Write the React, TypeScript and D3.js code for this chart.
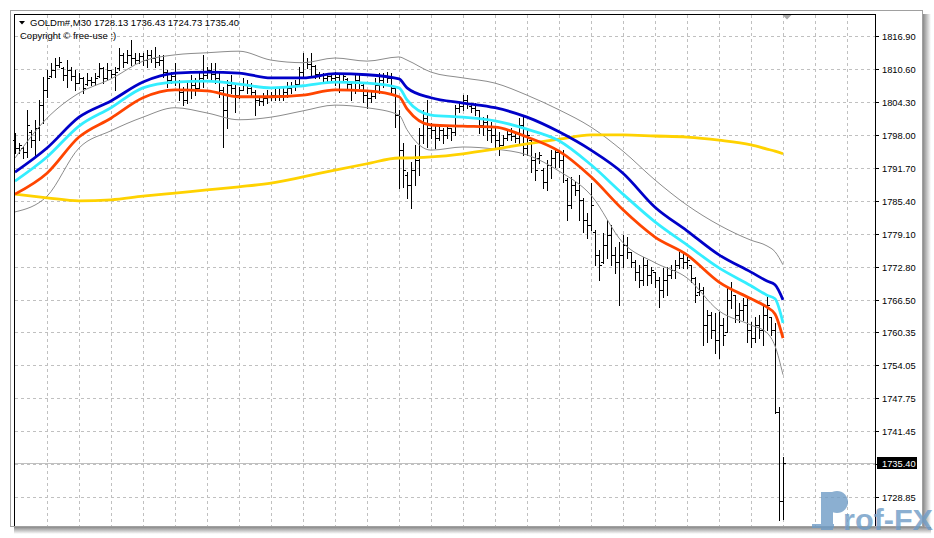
import * as d3 from 'd3'

const symbol = 'GOLDm#,M30'
const lastQuote = [1728.13, 1736.43, 1724.73, 1735.4]
const copyright = 'Copyright © free-use :)'
const bidPrice = 1735.4
const priceTicks = [
  1816.9, 1810.6, 1804.3, 1798.0, 1791.7, 1785.4, 1779.1, 1772.8, 1766.5,
  1760.35, 1754.05, 1747.75, 1741.45, 1735.15, 1728.85,
]

// M30 bars, oldest first
const open = [
  1797.0, 1795.5, 1795.5, 1794.7, 1798.6, 1797.0, 1799.3, 1803.7, 1806.6, 1809.3,
  1810.4, 1811.4, 1810.8, 1809.5, 1810.4, 1809.3, 1807.9, 1808.9, 1807.7, 1808.5,
  1808.1, 1809.3, 1810.8, 1808.9, 1810.4, 1809.6, 1810.8, 1813.3, 1811.9, 1813.3,
  1812.7, 1812.3, 1813.1, 1812.3, 1813.3, 1812.7, 1811.9, 1812.3, 1810.0, 1808.5,
  1809.3, 1808.1, 1806.2, 1804.7, 1806.6, 1807.5, 1807.0, 1808.9, 1809.5, 1810.4,
  1809.6, 1808.9, 1806.6, 1802.8, 1807.5, 1807.0, 1805.6, 1806.6, 1807.7, 1807.0,
  1806.2, 1804.7, 1804.5, 1805.1, 1805.4, 1805.6, 1805.3, 1805.6, 1806.2, 1807.0,
  1807.4, 1807.7, 1810.0, 1811.9, 1811.6, 1811.2, 1809.6, 1809.5, 1808.9, 1809.3,
  1808.9, 1809.1, 1808.1, 1808.7, 1807.7, 1806.6, 1808.5, 1807.5, 1805.6, 1805.1,
  1805.4, 1807.5, 1808.5, 1809.3, 1808.9, 1807.0, 1801.8, 1795.1, 1790.4, 1788.4,
  1791.3, 1793.2, 1798.0, 1801.2, 1799.3, 1798.9, 1797.4, 1798.9, 1798.0, 1799.3,
  1798.6, 1803.1, 1803.5, 1804.7, 1803.5, 1803.1, 1802.8, 1799.9, 1800.5, 1798.9,
  1798.0, 1797.0, 1796.1, 1797.4, 1798.2, 1797.8, 1797.4, 1799.9, 1795.5, 1797.0,
  1793.2, 1793.6, 1791.3, 1789.0, 1792.3, 1793.6, 1794.7, 1793.2, 1789.4, 1784.6,
  1788.4, 1787.5, 1785.6, 1781.8, 1780.8, 1779.5, 1775.1, 1773.7, 1777.0, 1778.9,
  1775.1, 1773.7, 1775.1, 1777.0, 1775.6, 1773.7, 1771.8, 1770.3, 1773.2, 1771.3,
  1771.8, 1770.3, 1768.4, 1770.3, 1771.3, 1772.2, 1773.2, 1774.5, 1773.7, 1773.2,
  1770.7, 1768.0, 1768.4, 1761.7, 1763.6, 1760.8, 1758.8, 1761.7, 1760.4, 1766.5,
  1767.4, 1763.6, 1764.6, 1765.5, 1760.8, 1759.2, 1761.7, 1760.8, 1763.6, 1763.2,
  1760.8, 1745.1, 1728.13,
]
const high = [
  1798.4, 1796.5, 1795.7, 1802.8, 1798.9, 1800.9, 1804.7, 1809.1, 1810.4, 1811.7,
  1812.7, 1812.9, 1811.0, 1812.3, 1811.0, 1810.4, 1809.8, 1809.1, 1809.8, 1809.1,
  1809.8, 1811.7, 1811.0, 1811.7, 1810.4, 1811.0, 1814.6, 1813.7, 1814.2, 1816.1,
  1813.7, 1813.7, 1813.7, 1814.2, 1814.2, 1814.8, 1813.3, 1813.3, 1810.4, 1810.0,
  1811.7, 1808.5, 1807.2, 1808.1, 1809.5, 1808.9, 1809.8, 1813.3, 1811.0, 1811.7,
  1811.7, 1810.0, 1807.2, 1808.5, 1809.5, 1807.9, 1807.2, 1808.9, 1808.5, 1807.9,
  1806.6, 1805.3, 1806.0, 1806.6, 1806.2, 1807.0, 1807.0, 1807.0, 1808.1, 1808.1,
  1808.5, 1811.0, 1813.7, 1812.7, 1813.7, 1811.4, 1810.0, 1809.8, 1809.8, 1809.8,
  1810.0, 1809.8, 1809.8, 1808.9, 1807.9, 1809.8, 1809.8, 1807.9, 1806.6, 1806.2,
  1808.9, 1809.8, 1809.8, 1810.0, 1809.8, 1807.2, 1802.8, 1796.5, 1790.9, 1792.8,
  1796.1, 1799.3, 1802.8, 1804.7, 1800.3, 1799.9, 1799.9, 1799.3, 1799.9, 1799.3,
  1803.7, 1804.1, 1805.6, 1805.6, 1803.7, 1804.1, 1802.8, 1801.4, 1801.8, 1800.5,
  1799.3, 1798.6, 1798.0, 1798.9, 1799.3, 1798.6, 1801.2, 1801.4, 1799.3, 1797.0,
  1794.6, 1794.7, 1791.7, 1793.2, 1795.1, 1795.5, 1795.1, 1795.1, 1789.8, 1789.9,
  1789.0, 1790.4, 1786.0, 1783.1, 1788.8, 1779.9, 1776.0, 1779.3, 1781.8, 1780.8,
  1776.6, 1777.5, 1778.9, 1778.5, 1775.6, 1774.1, 1773.2, 1774.7, 1774.1, 1772.8,
  1771.8, 1770.9, 1772.6, 1772.8, 1773.2, 1774.1, 1775.6, 1775.4, 1774.7, 1773.2,
  1770.9, 1769.7, 1769.0, 1764.6, 1764.2, 1764.0, 1764.2, 1763.0, 1768.8, 1769.9,
  1767.4, 1765.9, 1766.9, 1766.9, 1762.3, 1763.2, 1763.6, 1765.5, 1767.1, 1763.2,
  1762.1, 1746.0, 1736.43,
]
const low = [
  1794.6, 1794.6, 1793.6, 1793.8, 1795.7, 1793.8, 1797.0, 1800.3, 1805.3, 1809.1,
  1809.1, 1811.0, 1808.5, 1807.2, 1808.5, 1806.6, 1807.9, 1806.0, 1807.5, 1807.5,
  1807.5, 1809.1, 1807.9, 1808.5, 1809.1, 1806.6, 1810.4, 1811.0, 1811.7, 1811.4,
  1811.7, 1811.7, 1811.4, 1811.0, 1811.9, 1811.0, 1811.4, 1809.1, 1807.2, 1807.9,
  1807.5, 1804.7, 1803.7, 1804.1, 1805.1, 1805.6, 1807.0, 1807.2, 1808.9, 1808.5,
  1807.9, 1805.3, 1795.7, 1799.3, 1806.0, 1802.4, 1805.1, 1806.6, 1806.0, 1805.6,
  1801.8, 1803.7, 1803.7, 1804.1, 1804.7, 1804.7, 1804.7, 1804.7, 1805.3, 1806.0,
  1806.6, 1807.5, 1809.1, 1810.8, 1809.5, 1808.9, 1808.9, 1808.1, 1807.9, 1808.1,
  1807.5, 1806.2, 1808.1, 1807.0, 1804.7, 1806.0, 1807.0, 1804.3, 1803.1, 1804.3,
  1805.1, 1806.0, 1807.2, 1808.1, 1806.2, 1799.5, 1787.9, 1788.1, 1786.0, 1784.0,
  1788.4, 1790.4, 1796.5, 1795.7, 1797.4, 1795.5, 1797.0, 1796.5, 1797.4, 1797.0,
  1798.0, 1802.4, 1802.8, 1803.1, 1802.4, 1801.8, 1798.4, 1798.0, 1797.0, 1796.7,
  1795.7, 1794.2, 1796.1, 1797.0, 1797.0, 1796.7, 1796.5, 1794.2, 1794.2, 1790.9,
  1789.4, 1792.6, 1787.9, 1787.5, 1789.8, 1791.9, 1791.9, 1789.0, 1781.8, 1784.0,
  1786.5, 1781.8, 1779.5, 1778.3, 1779.9, 1773.2, 1770.3, 1773.5, 1774.5, 1773.2,
  1771.6, 1765.5, 1772.8, 1774.5, 1772.8, 1770.3, 1768.9, 1769.3, 1769.3, 1769.7,
  1769.0, 1765.1, 1767.0, 1767.4, 1770.7, 1770.7, 1772.6, 1772.6, 1772.6, 1769.9,
  1766.1, 1767.4, 1757.9, 1758.4, 1759.2, 1756.4, 1755.4, 1757.9, 1760.4, 1764.9,
  1762.3, 1762.3, 1762.7, 1758.5, 1757.5, 1758.5, 1759.2, 1757.9, 1760.8, 1759.8,
  1744.9, 1724.5, 1724.73,
]
const close = [
  1795.5, 1796.1, 1794.7, 1799.9, 1797.0, 1799.3, 1803.7, 1806.6, 1808.9, 1810.4,
  1811.4, 1812.0, 1809.5, 1810.4, 1809.3, 1807.9, 1808.9, 1807.0, 1808.5, 1808.1,
  1808.9, 1810.8, 1808.9, 1810.4, 1809.6, 1810.0, 1813.3, 1811.9, 1813.3, 1812.7,
  1812.3, 1813.1, 1812.3, 1813.3, 1812.7, 1811.9, 1812.3, 1810.0, 1808.5, 1809.3,
  1808.1, 1806.2, 1804.7, 1806.6, 1807.5, 1807.0, 1808.9, 1809.5, 1810.4, 1809.6,
  1808.9, 1806.6, 1802.8, 1807.5, 1807.0, 1805.6, 1806.6, 1807.7, 1807.0, 1806.2,
  1804.7, 1804.5, 1805.1, 1805.4, 1805.6, 1805.3, 1805.6, 1806.2, 1807.0, 1807.4,
  1807.7, 1810.0, 1811.9, 1811.6, 1811.2, 1809.6, 1809.5, 1808.9, 1809.3, 1808.9,
  1809.1, 1808.1, 1809.3, 1807.7, 1806.6, 1808.5, 1808.1, 1805.6, 1805.1, 1805.4,
  1807.5, 1808.5, 1809.3, 1808.9, 1807.0, 1801.8, 1795.1, 1791.3, 1788.4, 1791.3,
  1793.2, 1798.0, 1801.2, 1799.3, 1798.9, 1797.4, 1798.9, 1798.0, 1799.3, 1798.6,
  1803.1, 1803.5, 1804.7, 1803.9, 1803.1, 1802.8, 1799.9, 1800.5, 1798.9, 1798.0,
  1797.0, 1796.1, 1797.4, 1798.2, 1797.8, 1797.4, 1799.9, 1795.5, 1798.0, 1793.2,
  1791.3, 1794.2, 1789.0, 1792.3, 1793.6, 1794.7, 1793.2, 1794.2, 1784.6, 1788.4,
  1787.5, 1785.6, 1781.8, 1780.8, 1784.6, 1775.1, 1773.2, 1777.0, 1778.9, 1775.1,
  1773.7, 1775.1, 1777.0, 1775.6, 1773.7, 1771.8, 1770.3, 1773.2, 1771.3, 1772.2,
  1770.3, 1768.4, 1770.3, 1771.3, 1772.2, 1773.2, 1774.5, 1773.7, 1774.1, 1770.7,
  1767.4, 1768.4, 1761.7, 1763.6, 1760.8, 1758.8, 1761.7, 1759.8, 1766.5, 1768.4,
  1763.6, 1764.6, 1765.5, 1760.8, 1759.2, 1761.7, 1760.8, 1763.6, 1765.5, 1760.8,
  1745.1, 1728.1, 1735.4,
]

const lineIdx = [
  0, 8, 16, 24, 32, 40, 48, 56, 64, 72, 80, 88, 96, 98, 104, 112, 120, 128, 136,
  144, 152, 160, 168, 176, 184, 188, 190, 192,
]
const maBlue = [
  1790.9, 1795.5, 1801.4, 1804.5, 1808.1, 1809.8, 1810.0, 1809.8, 1808.9, 1808.9,
  1809.7, 1809.5, 1808.7, 1807.0, 1805.1, 1804.1, 1803.2, 1801.4, 1798.6, 1795.1,
  1790.7, 1784.2, 1779.7, 1775.1, 1771.8, 1770.1, 1769.4, 1766.5,
]
const maCyan = [
  1789.2, 1793.8, 1799.7, 1803.2, 1807.0, 1808.1, 1808.3, 1807.7, 1807.0, 1807.4,
  1808.1, 1807.9, 1807.0, 1804.7, 1801.8, 1801.4, 1800.7, 1799.1, 1796.9, 1792.3,
  1786.7, 1781.4, 1777.0, 1772.6, 1769.2, 1767.4, 1766.7, 1762.1,
]
const maOrange = [
  1786.7, 1790.7, 1797.6, 1801.2, 1805.1, 1806.6, 1806.4, 1805.3, 1805.3, 1805.6,
  1806.6, 1806.4, 1805.3, 1803.0, 1799.9, 1799.7, 1799.5, 1797.6, 1794.9, 1790.0,
  1783.7, 1778.5, 1775.1, 1769.9, 1766.7, 1765.1, 1763.8, 1759.2,
]
const bandUpper = [
  1793.6, 1801.2, 1806.0, 1808.7, 1812.1, 1813.3, 1813.7, 1814.0, 1812.3, 1811.8,
  1812.7, 1812.1, 1812.9, 1812.3, 1810.0, 1808.9, 1807.9, 1805.6, 1802.8, 1799.5,
  1794.9, 1789.4, 1784.6, 1780.8, 1777.9, 1776.8, 1775.7, 1773.2,
]
const bandLower = [
  1783.3, 1786.3, 1795.5, 1798.8, 1801.4, 1803.2, 1802.2, 1800.9, 1801.4, 1802.6,
  1803.7, 1803.2, 1801.8, 1799.0, 1795.1, 1795.7, 1795.3, 1794.2, 1791.1, 1786.5,
  1777.4, 1773.6, 1770.7, 1764.4, 1761.7, 1760.2, 1757.7, 1752.2,
]
const maSlow = [
  1786.7, 1786.0, 1785.4, 1785.6, 1786.3, 1786.9, 1787.5, 1788.1, 1788.8, 1790.0,
  1791.3, 1792.5, 1793.6, 1793.6, 1793.8, 1794.4, 1795.3, 1796.3, 1797.2, 1798.0,
  1798.0, 1797.8, 1797.6, 1797.0, 1796.1, 1795.3, 1794.9, 1794.4,
]

const font = "'Liberation Sans', Arial, sans-serif"

export default function App() {
  const left = 14
  const top = 14
  const right = 875
  const bottom = 526

  const x = d3.scaleLinear().domain([0, 192]).range([15, 783])
  const y = d3.scaleLinear().domain([1728.85, 1816.9]).range([497, 36])

  const line = d3
    .line<number>()
    .x((_, k) => x(lineIdx[k]))
    .y((v) => y(v))
    .curve(d3.curveMonotoneX)

  const bars = open
    .map((o, i) => {
      const xi = Math.round(x(i))
      const yh = Math.round(y(high[i]))
      const yl = Math.round(y(low[i]))
      const yo = Math.round(y(o)) + 0.5
      const yc = Math.round(y(close[i])) + 0.5
      return `M${xi + 0.5},${yh}V${yl + 1}M${xi - 2},${yo}H${xi}M${xi + 1},${yc}H${xi + 3}`
    })
    .join('')

  const gridBars = d3.range(8, 209, 8)
  const yBid = Math.round(y(bidPrice)) + 0.5
  const shiftX = x(193)

  return (
    <svg
      width={934}
      height={538}
      style={{ position: 'fixed', left: 0, top: 0, background: '#fff' }}
      fontFamily={font}
    >
      <defs>
        <linearGradient id="shR" x1="0" x2="1" y1="0" y2="0">
          <stop offset="0" stopColor="#8a8a8a" />
          <stop offset="1" stopColor="#ffffff" />
        </linearGradient>
        <linearGradient id="shB" x1="0" x2="0" y1="0" y2="1">
          <stop offset="0" stopColor="#8a8a8a" />
          <stop offset="1" stopColor="#ffffff" />
        </linearGradient>
      </defs>
      <rect width={934} height={538} fill="#fff" />
      {/* window frame and shadow */}
      <rect x={923} y={14} width={8} height={520} fill="url(#shR)" />
      <rect x={14} y={527} width={917} height={7} fill="url(#shB)" />
      <rect x={10.5} y={10.5} width={912} height={516} fill="#fff" stroke="#a0a0a0" />

      {/* grid */}
      <g stroke="#c0c0c0" strokeDasharray="3,3" shapeRendering="crispEdges">
        {priceTicks.map((t) => (
          <line key={t} x1={left + 1} x2={right} y1={Math.round(y(t)) + 0.5} y2={Math.round(y(t)) + 0.5} />
        ))}
        {gridBars.map((b) => (
          <line key={b} x1={Math.round(x(b)) + 0.5} x2={Math.round(x(b)) + 0.5} y1={top + 1} y2={bottom} />
        ))}
      </g>
      <line x1={left} x2={right} y1={yBid} y2={yBid} stroke="#c0c0c0" shapeRendering="crispEdges" />

      {/* bars */}
      <path d={bars} stroke="#000" strokeWidth={1} fill="none" shapeRendering="crispEdges" />

      {/* indicators */}
      <g fill="none" strokeLinejoin="round">
        <path d={line(bandUpper) ?? undefined} stroke="#8c8c8c" strokeWidth={1} />
        <path d={line(bandLower) ?? undefined} stroke="#8c8c8c" strokeWidth={1} />
        <path d={line(maSlow) ?? undefined} stroke="#ffd200" strokeWidth={2.8} />
        <path d={line(maOrange) ?? undefined} stroke="#ff4500" strokeWidth={2.8} />
        <path d={line(maCyan) ?? undefined} stroke="#33eeff" strokeWidth={2.8} />
        <path d={line(maBlue) ?? undefined} stroke="#0000c8" strokeWidth={2.8} />
      </g>

      {/* plot border */}
      <path
        d={`M${left + 0.5},${bottom}V${top + 0.5}H${right + 0.5}V${bottom}`}
        fill="none"
        stroke="#000"
        shapeRendering="crispEdges"
      />
      <path d={`M${shiftX - 4.5},${top + 1}h9l-4.5,4.5z`} fill="#a8a8a8" />

      {/* price scale */}
      <g fontSize={9.3} fill="#000">
        {priceTicks.map((t) => {
          const ty = Math.round(y(t)) + 0.5
          return (
            <g key={t}>
              <line x1={right} x2={right + 4} y1={ty} y2={ty} stroke="#000" shapeRendering="crispEdges" />
              {Math.abs(t - bidPrice) > 1 && (
                <text x={882} y={ty + 3.5}>
                  {t.toFixed(2)}
                </text>
              )}
            </g>
          )
        })}
        <rect x={877} y={yBid - 6.5} width={40} height={12} fill="#000" />
        <text x={882} y={yBid + 3.5} fill="#fff">
          {bidPrice.toFixed(2)}
        </text>
      </g>

      {/* header */}
      <path d="M19,21h6l-3,3.5z" fill="#000" />
      <text x={30} y={26} fontSize={9.5} fill="#000">
        {`${symbol}  ${lastQuote.map((v) => v.toFixed(2)).join(' ')}`}
      </text>
      <text x={20} y={38.5} fontSize={9.5} fill="#000">
        {copyright}
      </text>

      {/* watermark */}
      <g fill="#6f9cc6" opacity={0.8}>
        <rect x={821} y={492} width={12} height={38} />
        <circle cx={837} cy={502} r={11} />
        <rect x={812} y={524} width={22} height={4} />
        <text x={843} y={530} fontSize={29} fontWeight="bold" textLength={90} lengthAdjust="spacingAndGlyphs">
          rof-FX
        </text>
      </g>
    </svg>
  )
}
